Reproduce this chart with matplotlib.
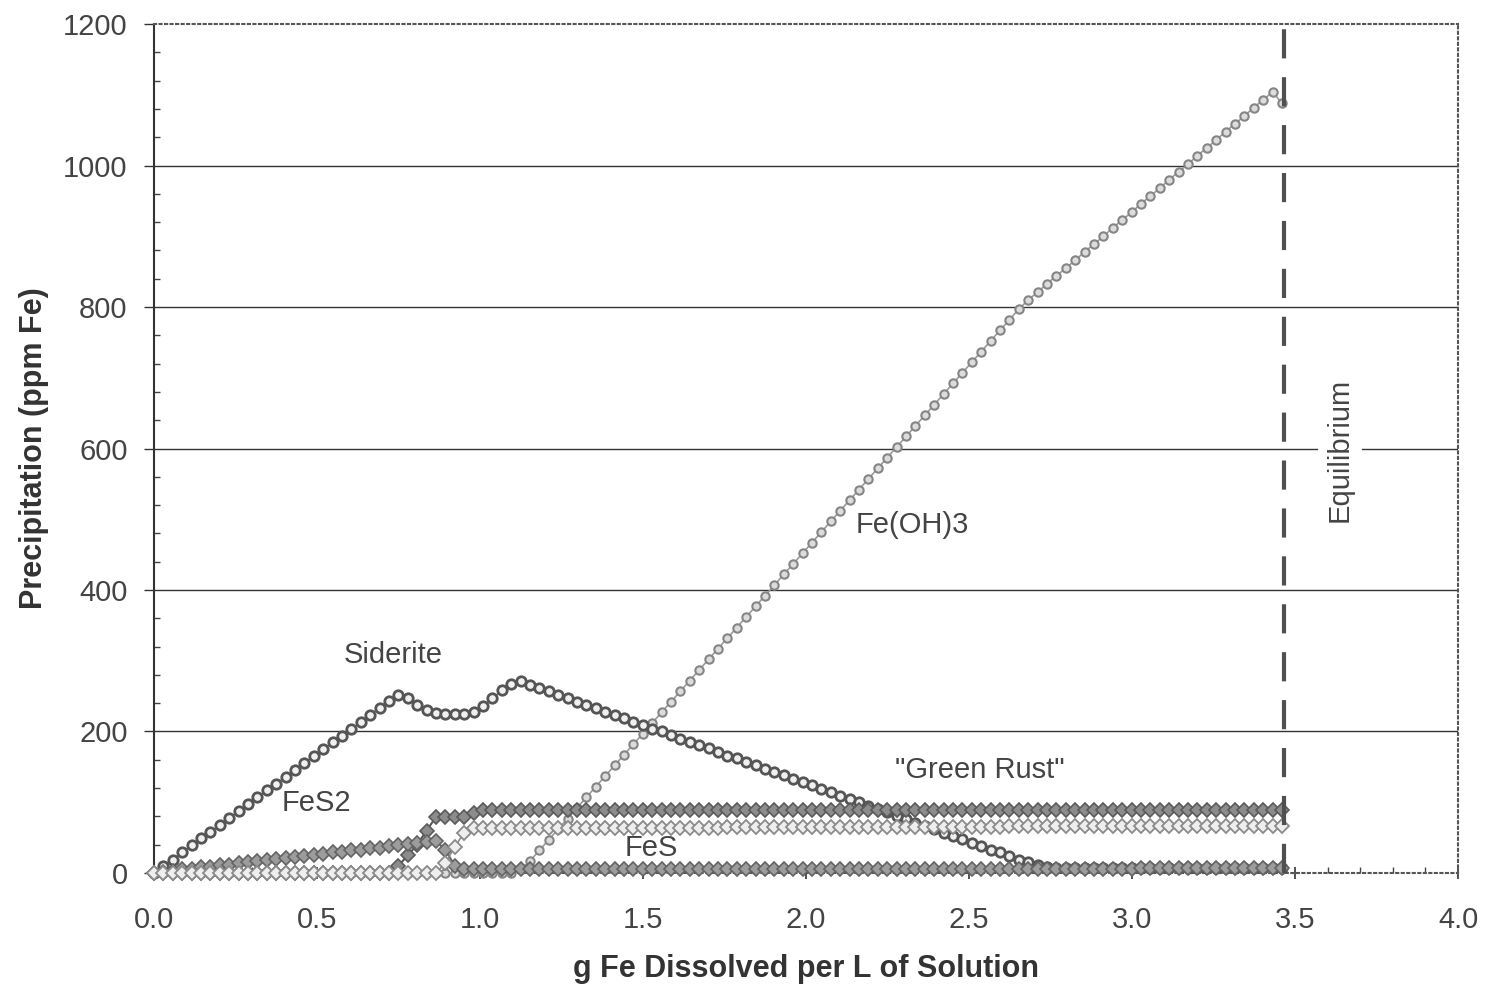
import numpy as np
import matplotlib
matplotlib.use('Agg')
import matplotlib.pyplot as plt
from matplotlib.ticker import MultipleLocator, FormatStrFormatter

plt.rcParams['font.family'] = ['Liberation Sans', 'DejaVu Sans']

# model steps: g Fe dissolved per L (regular reaction increments)
x_fe = np.linspace(0, 3.46, 121)

# precipitated amounts, ppm Fe (10 values per row)
siderite = [0, 10, 19, 29, 39, 49, 58, 68, 78, 87,
            97, 107, 117, 126, 136, 146, 156, 165, 175, 185,
            194, 204, 214, 224, 233, 243, 252, 247, 238, 230,
            226, 225, 225, 225, 227, 236, 247, 258, 267, 271,
            266, 261, 257, 252, 247, 242, 238, 233, 228, 223,
            219, 214, 209, 204, 200, 195, 190, 185, 181, 176,
            171, 166, 162, 157, 152, 147, 143, 138, 133, 128,
            124, 119, 114, 109, 105, 100, 95, 90, 86, 81,
            76, 71, 67, 62, 57, 52, 48, 43, 38, 33,
            29, 24, 19, 15, 11, 8, 7, 7, 7, 7,
            7, 7, 7, 7, 7, 7, 7, 7, 7, 7,
            7, 7, 7, 7, 7, 7, 7, 7, 7, 7,
            7]

fes2 = [0, 2, 3, 5, 6, 8, 9, 11, 12, 14,
        15, 17, 18, 20, 21, 23, 24, 26, 27, 29,
        30, 32, 33, 35, 36, 38, 39, 41, 42, 44,
        45, 33, 10, 5, 5, 5, 5, 5, 5, 5,
        5, 5, 5, 5, 5, 5, 5, 5, 5, 5,
        5, 5, 5, 5, 5, 5, 5, 5, 5, 5,
        5, 5, 5, 5, 5, 5, 5, 5, 5, 5,
        5, 5, 5, 5, 5, 5, 5, 5, 5, 5,
        5, 6, 6, 6, 6, 6, 6, 6, 6, 6,
        6, 6, 6, 6, 6, 6, 6, 6, 6, 6,
        6, 6, 6, 6, 6, 7, 7, 7, 7, 7,
        7, 7, 7, 7, 7, 7, 7, 7, 7, 7,
        7]

fes = [0, 0, 0, 0, 0, 0, 0, 0, 0, 0,
       0, 0, 0, 0, 0, 0, 0, 0, 0, 0,
       0, 0, 0, 0, 0, 0, 0, 0, 0, 0,
       0, 14, 37, 57, 64, 64, 64, 64, 64, 64,
       64, 64, 64, 64, 64, 64, 64, 64, 64, 64,
       64, 64, 64, 64, 64, 64, 64, 64, 64, 64,
       64, 65, 65, 65, 65, 65, 65, 65, 65, 65,
       65, 65, 65, 65, 65, 65, 65, 65, 65, 65,
       65, 65, 65, 65, 65, 65, 65, 65, 65, 65,
       65, 66, 66, 66, 66, 66, 66, 66, 66, 66,
       66, 66, 66, 66, 66, 66, 66, 66, 66, 66,
       66, 66, 66, 66, 66, 66, 66, 66, 66, 66,
       66]

green_rust = [0, 0, 0, 0, 0, 0, 0, 0, 0, 0,
              0, 0, 0, 0, 0, 0, 0, 0, 0, 0,
              0, 0, 0, 0, 0, 0, 10, 25, 40, 60,
              79, 79, 79, 79, 85, 89, 89, 89, 89, 89,
              89, 89, 89, 89, 89, 89, 89, 89, 89, 89,
              89, 89, 89, 89, 89, 89, 89, 89, 89, 89,
              89, 89, 89, 89, 89, 89, 89, 89, 89, 89,
              89, 89, 89, 89, 89, 89, 89, 89, 89, 89,
              89, 89, 89, 89, 89, 89, 89, 89, 89, 89,
              89, 89, 89, 89, 89, 89, 89, 89, 89, 89,
              89, 89, 89, 89, 89, 89, 89, 89, 89, 89,
              89, 89, 89, 89, 89, 89, 89, 89, 89, 89,
              89]

fe_oh3 = [0, 0, 0, 0, 0, 0, 0, 0, 0, 0,
          0, 0, 0, 0, 0, 0, 0, 0, 0, 0,
          0, 0, 0, 0, 0, 0, 0, 0, 0, 0,
          0, 0, 0, 0, 0, 0, 0, 0, 0, 5,
          17, 32, 47, 62, 77, 92, 107, 122, 137, 152,
          167, 182, 197, 212, 227, 242, 257, 272, 287, 302,
          317, 332, 347, 362, 377, 392, 407, 422, 437, 452,
          467, 482, 497, 512, 527, 542, 557, 572, 587, 602,
          617, 632, 647, 662, 677, 692, 707, 722, 737, 752,
          767, 782, 797, 810, 821, 833, 844, 855, 866, 878,
          889, 900, 912, 923, 934, 946, 957, 968, 980, 991,
          1002, 1014, 1025, 1036, 1048, 1059, 1070, 1082, 1093, 1104,
          1088]

equilibrium_x = 3.465

labels = ['Siderite', 'FeS2', 'FeS', 'Fe(OH)3', '"Green Rust"']
label_x = [0.733, 0.497, 1.525, 2.325, 2.534]
label_y = [308, 99, 35, 492, 146]

# plot everything
f = plt.figure(figsize=(14.86, 9.89), dpi=100)
ax = f.add_axes([0.1036, 0.1173, 0.8776, 0.8584])

ax.plot(x_fe, fe_oh3, '-', color='#9a9a9a', lw=1.2, marker='o', ms=6,
        mfc='#dcdcdc', mec='#858585', mew=1.5, zorder=3, clip_on=False)
ax.plot(x_fe, siderite, '-', color='#555555', lw=1, marker='o', ms=6.8,
        mfc='#f0f0f0', mec='#555555', mew=2, zorder=3.5, clip_on=False)
ax.plot(x_fe, green_rust, '-', color='#555555', lw=1.5, marker='D', ms=7.5,
        mfc='#8c8c8c', mec='#5a5a5a', mew=1.2, zorder=4, clip_on=False)
ax.plot(x_fe, fes2, '-', color='#666666', lw=1.5, marker='D', ms=7.5,
        mfc='#9c9c9c', mec='#636363', mew=1.2, zorder=4.2, clip_on=False)
ax.plot(x_fe, fes, '-', color='#8a8a8a', lw=1.2, marker='D', ms=7.5,
        mfc='#eeeeee', mec='#8a8a8a', mew=1.3, zorder=4.4, clip_on=False)

# equilibrium line
ax.axvline(equilibrium_x, color='#505050', lw=3, ls=(0, (7, 4.5)), zorder=6)

ax.set_xlim(0, 4)
ax.set_ylim(0, 1200)

# horizontal grid lines (not at axis ends)
for yv in [200, 400, 600, 800, 1000]:
    ax.axhline(yv, color='#333333', lw=1.0, zorder=1)

ax.xaxis.set_major_locator(MultipleLocator(0.5))
ax.xaxis.set_minor_locator(MultipleLocator(0.1))
ax.yaxis.set_major_locator(MultipleLocator(200))
ax.yaxis.set_minor_locator(MultipleLocator(40))
ax.xaxis.set_major_formatter(FormatStrFormatter('%.1f'))

ax.tick_params(axis='y', which='major', direction='out', length=7, width=1,
               color='#333333', labelsize=21, labelcolor='#444444', pad=12)
ax.tick_params(axis='y', which='minor', direction='in', length=4, width=1,
               color='#444444')
ax.tick_params(axis='x', which='major', direction='inout', length=9, width=1.2,
               color='#333333', labelsize=21, labelcolor='#444444', pad=19)
ax.tick_params(axis='x', which='minor', direction='in', length=4, width=1,
               color='#444444')

ax.spines['left'].set_color('#333333')
ax.spines['left'].set_linewidth(1.5)
for side in ['top', 'right', 'bottom']:
    ax.spines[side].set_linestyle(':')
    ax.spines[side].set_color('#555555')
    ax.spines[side].set_linewidth(1.5)

ax.set_xlabel('g Fe Dissolved per L of Solution', fontsize=22,
              fontweight='bold', color='#333333', labelpad=15)
ax.set_ylabel('Precipitation (ppm Fe)', fontsize=22, fontweight='bold',
              color='#333333', labelpad=10)

for lab, lx, ly in zip(labels, label_x, label_y):
    ax.text(lx, ly, lab, fontsize=21, color='#444444', ha='center',
            va='center', zorder=7)

ax.text(3.638, 598, 'Equilibrium', fontsize=21, color='#444444',
        rotation=90, ha='center', va='center', zorder=7,
        bbox=dict(facecolor='white', edgecolor='none', pad=6))

f.savefig('out.png', dpi=100)
